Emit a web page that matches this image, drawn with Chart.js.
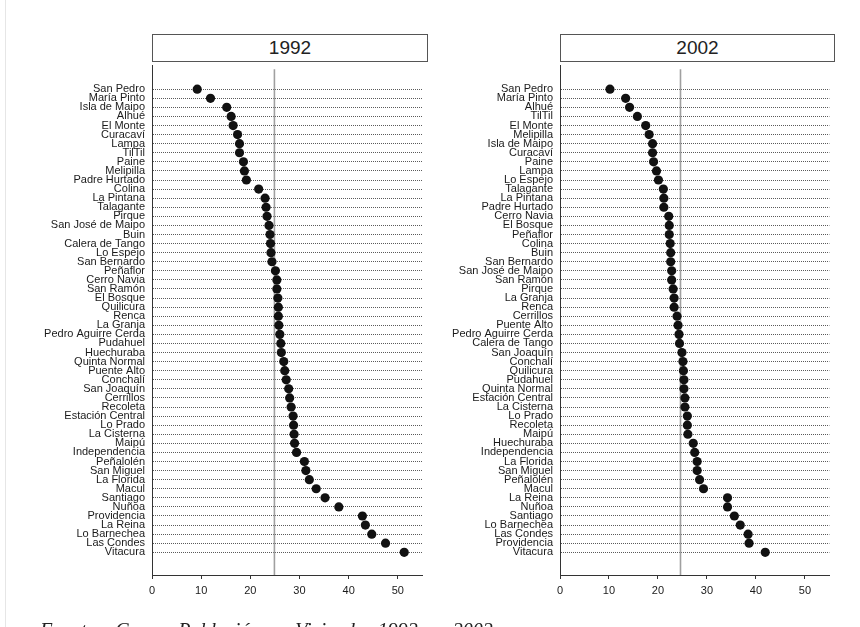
<!DOCTYPE html>
<html lang="es">
<head>
<meta charset="utf-8">
<title>Comunas de la Región Metropolitana, 1992 y 2002</title>
<script src="https://cdn.jsdelivr.net/npm/chart.js@4.4.1/dist/chart.umd.min.js"></script>
<style>
  html, body { margin: 0; padding: 0; background: #fff; overflow: hidden; }
  body { width: 860px; height: 627px; position: relative; font-family: "Liberation Sans", Arial, sans-serif; }
  canvas { position: absolute; }
  .title {
    position: absolute; top: 34px; height: 28px; box-sizing: border-box;
    border: 1px solid #555; text-align: center; font-size: 19px; line-height: 26px; color: #222;
  }
  .source {
    position: absolute; left: 40px; top: 619px; white-space: nowrap; color: #222;
    font-family: "Liberation Serif", serif; font-style: italic; font-size: 20px; word-spacing: 8px;
  }
  .edge { position: absolute; left: 5px; top: 0; width: 1px; height: 627px; background: #e6e6e6; }
</style>
</head>
<body>
<div class="edge"></div>
<div class="title" style="left:152px; width:276px;">1992</div>
<div class="title" style="left:560px; width:275px;">2002</div>
<canvas id="chart1992" width="427" height="566" style="left:0; top:61px;"></canvas>
<canvas id="chart2002" width="426" height="566" style="left:408px; top:61px;"></canvas>
<div class="source">Fuente: Censo Población y Vivienda 1992 y 2002</div>

<script>
// comunas ordered from lowest to highest value, one list per census
const names1992 = [
  'San Pedro', 'María Pinto', 'Isla de Maipo', 'Alhué', 'El Monte', 'Curacaví', 'Lampa', 'TilTil',
  'Paine', 'Melipilla', 'Padre Hurtado', 'Colina', 'La Pintana', 'Talagante', 'Pirque',
  'San José de Maipo', 'Buin', 'Calera de Tango', 'Lo Espejo', 'San Bernardo', 'Peñaflor',
  'Cerro Navia', 'San Ramón', 'El Bosque', 'Quilicura', 'Renca', 'La Granja', 'Pedro Aguirre Cerda',
  'Pudahuel', 'Huechuraba', 'Quinta Normal', 'Puente Alto', 'Conchalí', 'San Joaquín', 'Cerrillos',
  'Recoleta', 'Estación Central', 'Lo Prado', 'La Cisterna', 'Maipú', 'Independencia', 'Peñalolén',
  'San Miguel', 'La Florida', 'Macul', 'Santiago', 'Nuñoa', 'Providencia', 'La Reina',
  'Lo Barnechea', 'Las Condes', 'Vitacura'
];
const values1992 = [
  9.2, 11.9, 15.2, 16.1, 16.5, 17.4, 17.8, 17.8,
  18.6, 18.8, 19.2, 21.7, 23.0, 23.2, 23.4,
  23.8, 24.0, 24.1, 24.2, 24.4, 25.1,
  25.4, 25.4, 25.6, 25.7, 25.7, 25.8, 26.0,
  26.2, 26.3, 26.8, 27.0, 27.3, 27.8, 28.0,
  28.3, 28.7, 28.8, 28.9, 29.0, 29.4, 31.0,
  31.3, 32.0, 33.4, 35.2, 38.0, 42.8, 43.4,
  44.7, 47.5, 51.3
];

const names2002 = [
  'San Pedro', 'María Pinto', 'Alhué', 'TilTil', 'El Monte', 'Melipilla', 'Isla de Maipo', 'Curacaví',
  'Paine', 'Lampa', 'Lo Espejo', 'Talagante', 'La Pintana', 'Padre Hurtado', 'Cerro Navia',
  'El Bosque', 'Peñaflor', 'Colina', 'Buin', 'San Bernardo', 'San José de Maipo',
  'San Ramón', 'Pirque', 'La Granja', 'Renca', 'Cerrillos', 'Puente Alto', 'Pedro Aguirre Cerda',
  'Calera de Tango', 'San Joaquín', 'Conchalí', 'Quilicura', 'Pudahuel', 'Quinta Normal', 'Estación Central',
  'La Cisterna', 'Lo Prado', 'Recoleta', 'Maipú', 'Huechuraba', 'Independencia', 'La Florida',
  'San Miguel', 'Peñalolén', 'Macul', 'La Reina', 'Nuñoa', 'Santiago', 'Lo Barnechea',
  'Las Condes', 'Providencia', 'Vitacura'
];
const values2002 = [
  10.2, 13.4, 14.2, 15.8, 17.5, 18.2, 18.9, 18.9,
  19.1, 19.7, 20.1, 21.1, 21.2, 21.2, 22.2,
  22.3, 22.3, 22.5, 22.6, 22.6, 22.8,
  22.8, 23.1, 23.3, 23.3, 23.9, 24.1, 24.3,
  24.4, 24.9, 25.1, 25.2, 25.3, 25.3, 25.5,
  25.5, 26.0, 26.0, 26.1, 27.2, 27.5, 28.0,
  28.0, 28.5, 29.3, 34.2, 34.2, 35.6, 36.8,
  38.4, 38.6, 41.9
];

// reference line (overall value) for each year
const refLine1992 = 24.9;
const refLine2002 = 24.6;

const xTicks = [0, 10, 20, 30, 40, 50];
const xMax = 55;
// row axis runs a bit past the first and last comuna
const yMin = -1.6;
const yMax = 54.5;
const refTop = -1.2;

Chart.defaults.font.family = '"Liberation Sans", Arial, Helvetica, sans-serif';
Chart.defaults.font.size = 11;
Chart.defaults.color = '#1a1a1a';

function makePanel(id, names, values, ref) {
  const dots = values.map((v, i) => ({ x: v, y: i + 1 }));
  return new Chart(document.getElementById(id), {
    type: 'scatter',
    data: {
      datasets: [
        {
          data: dots,
          pointRadius: 4.6,
          pointBackgroundColor: '#111',
          pointBorderWidth: 0,
          order: 1
        },
        {
          type: 'line',
          data: [{ x: ref, y: refTop }, { x: ref, y: yMax }],
          borderColor: '#a0a0a0',
          borderWidth: 1.6,
          pointRadius: 0,
          order: 2
        }
      ]
    },
    options: {
      responsive: false,
      animation: false,
      events: [],
      layout: { padding: 0 },
      plugins: { legend: { display: false }, tooltip: { enabled: false } },
      scales: {
        x: {
          type: 'linear',
          min: 0,
          max: xMax,
          afterBuildTicks: s => { s.ticks = xTicks.map(v => ({ value: v })); },
          afterFit: s => { s.height = 52; s.paddingLeft = 0; s.paddingRight = 0; },
          ticks: { padding: 5, maxRotation: 0 },
          grid: { drawOnChartArea: false, drawTicks: true, tickLength: 4, color: '#333' },
          border: { display: true, color: '#333', width: 1 }
        },
        y: {
          type: 'linear',
          reverse: true,
          min: yMin,
          max: yMax,
          afterBuildTicks: s => { s.ticks = names.map((_, i) => ({ value: i + 1 })); },
          afterFit: s => { s.width = 152; s.paddingTop = 0; s.paddingBottom = 0; },
          ticks: {
            autoSkip: false,
            padding: 7,
            callback: v => names[Math.round(v) - 1]
          },
          grid: { drawTicks: false, color: '#5a5a5a', lineWidth: 1 },
          border: { display: true, color: '#333', width: 1, dash: [1, 1] }
        }
      }
    }
  });
}

makePanel('chart1992', names1992, values1992, refLine1992);
makePanel('chart2002', names2002, values2002, refLine2002);
</script>
</body>
</html>
